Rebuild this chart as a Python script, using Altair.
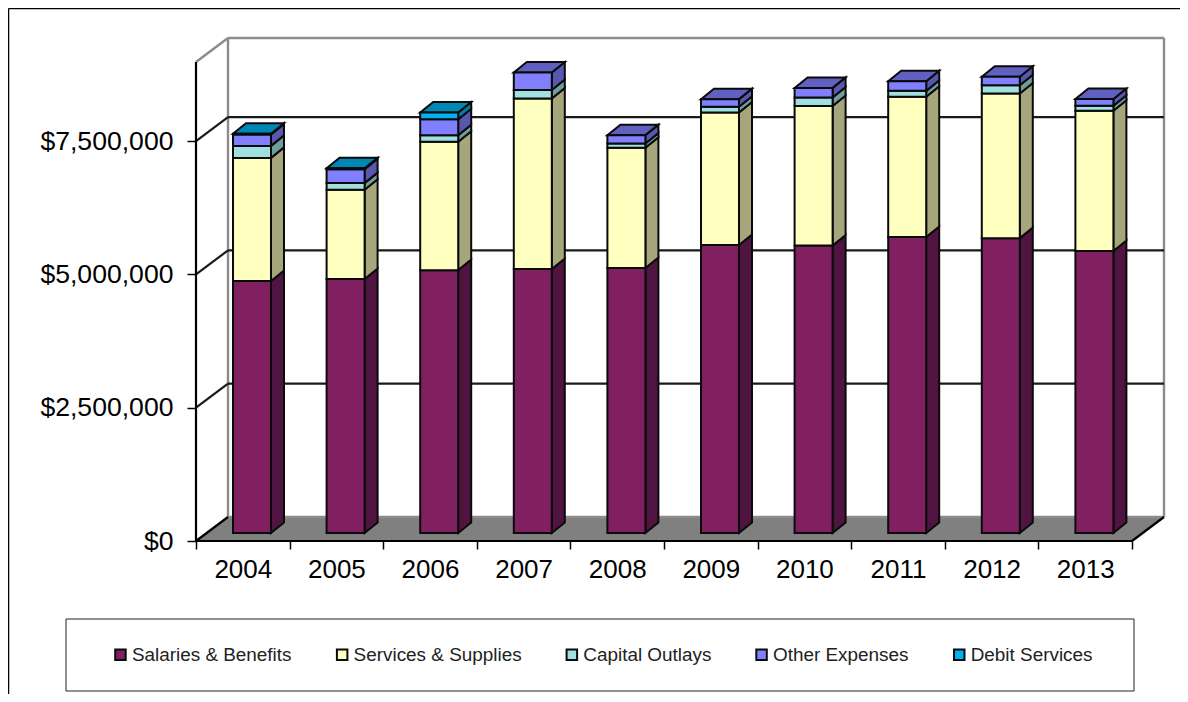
import altair as alt
import pandas as pd

years = [2004, 2005, 2006, 2007, 2008, 2009, 2010, 2011, 2012, 2013]
series_names = ["Salaries & Benefits", "Services & Supplies", "Capital Outlays", "Other Expenses", "Debit Services"]
salaries = [4725000, 4762000, 4930000, 4950000, 4970000, 5400000, 5390000, 5550000, 5530000, 5290000]
services = [2310000, 1675000, 2406000, 3200000, 2256000, 2488000, 2620000, 2630000, 2713000, 2630000]
capital = [225000, 125000, 125000, 160000, 80000, 105000, 158000, 112000, 156000, 94000]
other = [214000, 262000, 300000, 326000, 156000, 144000, 180000, 182000, 156000, 125000]
debit = [15000, 15000, 125000, 0, 0, 0, 0, 0, 0, 0]
y_ticks = [0, 2500000, 5000000, 7500000]
front_colors = ["#802060", "#FFFFC0", "#A0E0E0", "#8080FF", "#00B0F0"]
side_colors = ["#501440", "#A6A67C", "#6F9C9C", "#5858B0", "#0080A8"]
top_colors = ["#64184C", "#C8C896", "#80B4B4", "#6060C0", "#0088B5"]

PX_W, PX_H = 968, 503
STEP = 93.6
PER_PX = 2500000 / 133.3
X_MAX = PX_W / STEP
Y_MAX = PX_H * PER_PX
WALL_DX, WALL_DY = 32 / STEP, 24 * PER_PX
BAR_LEFT, BAR_W = 37 / STEP, 38 / STEP
BAR_DX, BAR_DY = 13 / STEP, 10.5 * PER_PX
BAR_BASE = 8 * PER_PX
LINE = "#0A0A0A"

x_axis = alt.Axis(values=list(range(11)), domain=False, grid=False, tickSize=8, tickWidth=1.5,
                  tickColor="#000000", labelFontSize=26, labelFont="Liberation Sans", labelColor="#000000",
                  labelPadding=7, labelOffset=STEP / 2, labelOverlap=False, labelBound=False, labelFlush=False,
                  labelExpr="datum.value < 10 ? '' + (%d + datum.value) : ''" % years[0])
y_axis = alt.Axis(values=y_ticks, format="$,.0f", domain=False, grid=False, tickSize=9, tickWidth=1.5,
                  tickColor="#000000", labelFontSize=26.6, labelFont="Liberation Sans", labelColor="#000000",
                  labelPadding=14, labelOverlap=False, labelBound=False)


def fx():
    return alt.X("x:Q", scale=alt.Scale(domain=[0, X_MAX], range=[0, PX_W], nice=False), axis=x_axis, title=None)


def fy():
    return alt.Y("y:Q", scale=alt.Scale(domain=[0, Y_MAX], range=[PX_H, 0], nice=False), axis=y_axis, title=None,
                 stack=None)


# Build faces
front, sides, tops = [], [], []
table = [salaries, services, capital, other, debit]
for i, yr in enumerate(years):
    base = BAR_BASE
    left = i + BAR_LEFT
    right = left + BAR_W
    last = None
    for s, name in enumerate(series_names):
        v = table[s][i]
        if v <= 0:
            continue
        t = base + v
        front.append(dict(x=left, x2=right, y=base, y2=t, series=name))
        key = f"{yr}-{s}"
        sides.append(dict(x=right, y=base, y2=t, key=key, fc=side_colors[s]))
        sides.append(dict(x=right + BAR_DX, y=base + BAR_DY, y2=t + BAR_DY, key=key, fc=side_colors[s]))
        base = t
        last = s
    key = f"{yr}"
    for x, lo, hi in [(left, base, base),
                      (left + BAR_DX, base, base + BAR_DY),
                      (right, base, base + BAR_DY),
                      (right + BAR_DX, base + BAR_DY, base + BAR_DY)]:
        tops.append(dict(x=x, y=lo, y2=hi, key=key, fc=top_colors[last]))
front, sides, tops = map(pd.DataFrame, (front, sides, tops))

one = pd.DataFrame({"a": [0]})

floor = pd.DataFrame([
    dict(x=0, y=0, y2=0),
    dict(x=WALL_DX, y=0, y2=WALL_DY),
    dict(x=X_MAX - WALL_DX, y=0, y2=WALL_DY),
    dict(x=X_MAX, y=WALL_DY, y2=WALL_DY),
])
floor_layer = alt.Chart(floor).mark_area(color="#808080", orient="vertical").encode(
    x=fx(), y=fy(), y2="y2:Q")


def rules(rows, color, width):
    df = pd.DataFrame(rows, columns=["x", "y", "x2", "y2"])
    return alt.Chart(df).mark_rule(color=color, strokeWidth=width).encode(
        x=fx(), x2="x2:Q", y=fy(), y2="y2:Q")


gray_edges = rules([
    (WALL_DX, WALL_DY, WALL_DX, Y_MAX),
    (WALL_DX, Y_MAX, X_MAX, Y_MAX),
    (X_MAX, WALL_DY, X_MAX, Y_MAX),
    (0, Y_MAX - WALL_DY, WALL_DX, Y_MAX),
    (WALL_DX, WALL_DY, X_MAX, WALL_DY),
], "#8C8C8C", 2.4)

grid_rows = []
for v in y_ticks[1:]:
    grid_rows.append((0, v, WALL_DX, v + WALL_DY))
    grid_rows.append((WALL_DX, v + WALL_DY, X_MAX, v + WALL_DY))
grid = rules(grid_rows, "#1A1A1A", 2.2)

black_edges = rules([
    (0, 0, 0, Y_MAX - WALL_DY),
    (0, 0, X_MAX - WALL_DX, 0),
    (X_MAX - WALL_DX, 0, X_MAX, WALL_DY),
    (0, 0, WALL_DX, WALL_DY),
], "#000000", 2.2)

side_layer = alt.Chart(sides).mark_area(stroke=LINE, strokeWidth=2, orient="vertical").encode(
    x=fx(), y=fy(), y2="y2:Q", color=alt.Color("fc:N", scale=None), detail="key:N")
top_layer = alt.Chart(tops).mark_area(stroke=LINE, strokeWidth=2, orient="vertical").encode(
    x=fx(), y=fy(), y2="y2:Q", color=alt.Color("fc:N", scale=None), detail="key:N")

front_layer = alt.Chart(front).mark_rect(stroke=LINE, strokeWidth=2).encode(
    x=fx(), x2="x2:Q", y=fy(), y2="y2:Q",
    color=alt.Color("series:N", scale=alt.Scale(domain=series_names, range=front_colors),
                    legend=alt.Legend(orient="none", legendX=-85, legendY=607, direction="horizontal", columns=5,
                                      title=None, symbolType="square", symbolSize=110, symbolStrokeColor=LINE,
                                      symbolStrokeWidth=2, labelFont="Liberation Sans", labelFontSize=18.9,
                                      labelColor="#222222", labelLimit=320, labelOffset=2, columnPadding=40.7,
                                      gridAlign="each")),
)

frame_top = alt.Chart(one).mark_rule(color="#000000", strokeWidth=1.5).encode(
    x=alt.value(-187.5), x2=alt.value(PX_W + 16), y=alt.value(-29.5), y2=alt.value(-29.5))
frame_left = alt.Chart(one).mark_rule(color="#000000", strokeWidth=1.5).encode(
    x=alt.value(-187.5), x2=alt.value(-187.5), y=alt.value(-29.5), y2=alt.value(PX_H + 153))
legend_box = alt.Chart(one).mark_rect(fill="#FFFFFF", stroke="#222222", strokeWidth=1).encode(
    x=alt.value(-130), x2=alt.value(938), y=alt.value(581), y2=alt.value(653))

chart = alt.layer(
    frame_top, frame_left, legend_box,
    floor_layer, gray_edges, grid, black_edges,
    side_layer, top_layer, front_layer,
).properties(
    width=PX_W, height=PX_H,
    padding={"left": 188, "top": 30, "right": 16, "bottom": 153},
    autosize=alt.AutoSizeParams(type="none"),
    background="#FFFFFF",
).configure_view(stroke=None)

chart.save("out.html", embed_options={"renderer": "svg", "actions": False})
